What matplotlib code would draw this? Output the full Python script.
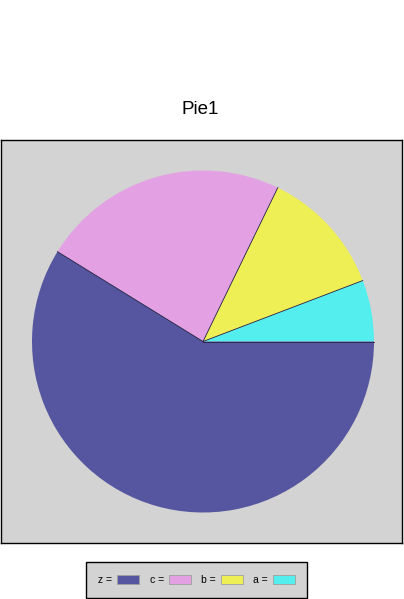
import numpy as np
import matplotlib
matplotlib.use("Agg")
import matplotlib.pyplot as plt
from matplotlib.patches import Patch

# slice data (counter-clockwise from 3 o'clock)
labels = ["a", "b", "c", "z"]
values = [5.8, 12.0, 23.4, 58.8]
colors = ["#55eeee", "#eeee55", "#e3a1e3", "#5555a0"]

W, H = 404, 599
fig = plt.figure(figsize=(W / 100, H / 100), dpi=100)
fig.patch.set_facecolor("white")

# plot box in pixel units
ax = fig.add_axes([1 / W, (H - 543) / H, 401 / W, 403 / H])
ax.set_facecolor("#d3d3d3")
wedges, _ = ax.pie(values, colors=colors, startangle=0, counterclock=True,
                   radius=171, center=(0, 0), frame=True,
                   wedgeprops=dict(linewidth=0))
# dark radial separators between slices
for w in wedges:
    t = np.deg2rad(w.theta1)
    ax.plot([0, 171 * np.cos(t)], [0, 171 * np.sin(t)], color="#222244", lw=0.6)
ax.set_xlim(-202, 199)
ax.set_ylim(-201.5, 201.5)
ax.set_aspect("auto")
ax.set_xticks([])
ax.set_yticks([])
for s in ax.spines.values():
    s.set_color("black")
    s.set_linewidth(1)

fig.text(200 / W, 1 - 110 / H, "Pie1", ha="center", va="center", fontsize=13.5,
         family="Liberation Sans", stretch="condensed")

# legend in reverse order: z, c, b, a
handles = [Patch(facecolor=c, edgecolor="#a0a0a0", linewidth=0.6) for c in colors[::-1]]
names = [l + " =" for l in labels[::-1]]
leg = fig.legend(handles, names, loc="center", bbox_to_anchor=(196.5 / W, 1 - 580 / H),
                 ncol=4, markerfirst=False, frameon=True, fancybox=False,
                 handlelength=2.1, handleheight=1.0, handletextpad=0.5,
                 columnspacing=1.0, borderpad=1.2, borderaxespad=0,
                 prop=dict(family="Liberation Sans", size=7.5))
leg.get_frame().set_facecolor("#d3d3d3")
leg.get_frame().set_edgecolor("black")
leg.get_frame().set_linewidth(1)
leg.get_frame().set_alpha(1)

fig.savefig("out.png", dpi=100)
